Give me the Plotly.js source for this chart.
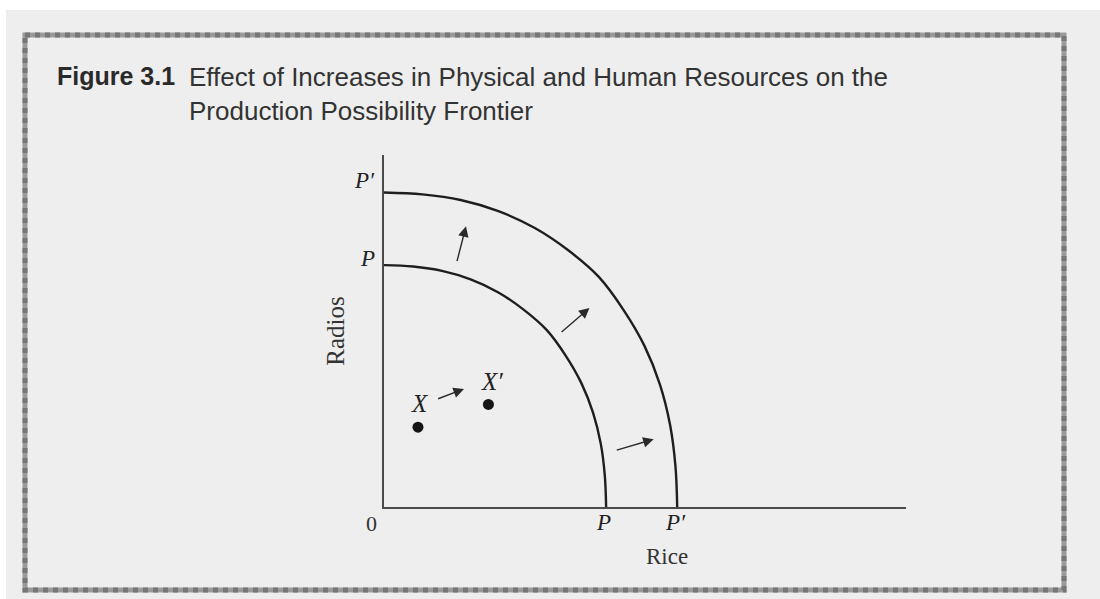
<!DOCTYPE html>
<html>
<head>
<meta charset="utf-8">
<script src="https://cdn.plot.ly/plotly-3.0.1.min.js"></script>
<style>html,body{margin:0;padding:0;background:#eeeeee;}</style>
</head>
<body>
<div id="chart" style="width:1100px;height:599px;"></div>
<script>
// ---- data (Rice on x, Radios on y) ----
const riceInner   = [0, 13.1, 26.1, 39.0, 51.3, 62.7, 73.2, 81.7, 88.8, 94.1, 97.6, 99.4, 100];
const radiosInner = [100, 99.4, 97.6, 94.1, 88.8, 81.7, 73.2, 62.7, 51.3, 39.0, 26.1, 13.1, 0];
const riceOuter   = [0, 17.3, 34.5, 51.5, 67.7, 82.8, 96.6, 107.8, 117.2, 124.2, 128.8, 131.2, 132.0];
const radiosOuter = [130.0, 129.2, 126.9, 122.3, 115.4, 106.2, 95.2, 81.5, 66.7, 50.7, 33.9, 17.0, 0];
const pointLabels = ['X', 'X′'];
const pointRice   = [15.3, 47.0];
const pointRadios = [33.0, 42.4];
// shift arrows: tail and head
const arrowTailRice   = [32.7, 79.3, 104.1, 23.7];
const arrowTailRadios = [101.0, 71.8, 23.3, 44.5];
const arrowHeadRice   = [36.9, 92.5, 121.4, 36.0];
const arrowHeadRadios = [116.0, 82.3, 28.0, 48.8];
const innerLabel = 'P';
const outerLabel = 'P′';
const xAxisTitle = 'Rice';
const yAxisTitle = 'Radios';
const figLabel = 'Figure 3.1';
const titleLines = ['Effect of Increases in Physical and Human Resources on the', 'Production Possibility Frontier'];

// ---- layout geometry ----
const W = 1100, H = 599;
const L = 384, R = 906, T = 155, B = 507;
const pw = R - L, ph = B - T;
const px = v => (v - L) / pw;       // pixel x -> paper
const py = v => (B - v) / ph;       // pixel y -> paper

const ink = '#1e1e1e';
const serif = 'Liberation Serif, Times New Roman, serif';
const sans = 'Liberation Sans, Arial, Helvetica, sans-serif';

const traces = [
  {x: riceInner, y: radiosInner, mode: 'lines', line: {color: ink, width: 2.4, shape: 'spline', smoothing: 1, simplify: false}, hoverinfo: 'skip', showlegend: false},
  {x: riceOuter, y: radiosOuter, mode: 'lines', line: {color: ink, width: 2.4, shape: 'spline', smoothing: 1, simplify: false}, hoverinfo: 'skip', showlegend: false},
  {x: pointRice, y: pointRadios, mode: 'markers', marker: {color: '#151515', size: 11}, hoverinfo: 'skip', showlegend: false}
];

const ann = [];
// shift arrows
for (let i = 0; i < arrowHeadRice.length; i++) {
  ann.push({x: arrowHeadRice[i], y: arrowHeadRadios[i], ax: arrowTailRice[i], ay: arrowTailRadios[i],
    xref: 'x', yref: 'y', axref: 'x', ayref: 'y', text: '', showarrow: true,
    arrowhead: 2, arrowsize: 1.5, arrowwidth: 1.4, arrowcolor: '#2a2a2a', standoff: 0});
}
const lbl = (x, y, text, xs, ys, size, color) => ({x: x, y: y, xref: 'x', yref: 'y', text: text, showarrow: false,
  xanchor: 'center', yanchor: 'middle', xshift: xs, yshift: ys, font: {family: serif, size: size, color: color || '#222'}});
// point labels
const pointShift = [[2, 24], [4, 23]];
for (let i = 0; i < pointLabels.length; i++) {
  ann.push(lbl(pointRice[i], pointRadios[i], '<i>' + pointLabels[i] + '</i>', pointShift[i][0], pointShift[i][1], 25));
}
const nI = riceInner.length - 1, nO = riceOuter.length - 1;
// axis end labels
ann.push(lbl(riceInner[nI], 0, '<i>' + innerLabel + '</i>', -3, -15, 23));
ann.push(lbl(riceOuter[nO], 0, '<i>' + outerLabel + '</i>', -2, -15, 23));
ann.push(lbl(0, radiosInner[0], '<i>' + innerLabel + '</i>', -17, 7, 23));
ann.push(lbl(0, radiosOuter[0], '<i>' + outerLabel + '</i>', -20, 12, 23));
ann.push(lbl(0, 0, '0', -13, -16, 22, '#333'));
ann.push({x: px(667), y: py(556), xref: 'paper', yref: 'paper', xanchor: 'center', yanchor: 'middle', text: xAxisTitle, showarrow: false,
  font: {family: serif, size: 23, color: '#333'}});
// main title text with hanging indent
ann.push({x: px(187), y: py(60), xref: 'paper', yref: 'paper', xanchor: 'left', yanchor: 'top', align: 'left',
  text: titleLines.join('<br>'), showarrow: false, font: {family: sans, size: 26, color: '#333'}});

const shapes = [
  {type: 'rect', xref: 'paper', yref: 'paper', x0: px(0), x1: px(W), y0: py(0), y1: py(10), fillcolor: '#ffffff', line: {width: 0}, layer: 'below'},
  {type: 'rect', xref: 'paper', yref: 'paper', x0: px(0), x1: px(6), y0: py(0), y1: py(H), fillcolor: '#ffffff', line: {width: 0}, layer: 'below'},
  {type: 'rect', xref: 'paper', yref: 'paper', x0: px(25), x1: px(1064), y0: py(35), y1: py(590), fillcolor: 'rgba(0,0,0,0)', line: {color: '#9a9a9a', width: 5}, layer: 'below'},
  {type: 'rect', xref: 'paper', yref: 'paper', x0: px(25), x1: px(1064), y0: py(35), y1: py(590), fillcolor: 'rgba(0,0,0,0)', line: {color: '#777777', width: 5, dash: 'dot'}, layer: 'below'}
];

const layout = {
  width: W, height: H,
  margin: {l: L, r: W - R, t: T, b: H - B, pad: 0},
  paper_bgcolor: '#eeeeee',
  plot_bgcolor: 'rgba(0,0,0,0)',
  title: {text: '<b>' + figLabel + '</b>', xref: 'container', yref: 'container', x: 57 / W, xanchor: 'left', y: 1 - 67 / H, yanchor: 'top',
    font: {family: sans, size: 25, color: '#2a2a2a'}},
  xaxis: {range: [0, 235], showline: true, linecolor: '#4a4a4a', linewidth: 1.6, showgrid: false, zeroline: false,
    showticklabels: false, ticks: '', fixedrange: true},
  yaxis: {range: [0, 145.5], showline: true, linecolor: '#4a4a4a', linewidth: 1.6, showgrid: false, zeroline: false,
    showticklabels: false, ticks: '', fixedrange: true,
    title: {text: yAxisTitle, standoff: 30, font: {family: serif, size: 25, color: '#333'}}},
  annotations: ann,
  shapes: shapes,
  showlegend: false
};

Plotly.newPlot('chart', traces, layout, {staticPlot: true, displayModeBar: false});
</script>
</body>
</html>
